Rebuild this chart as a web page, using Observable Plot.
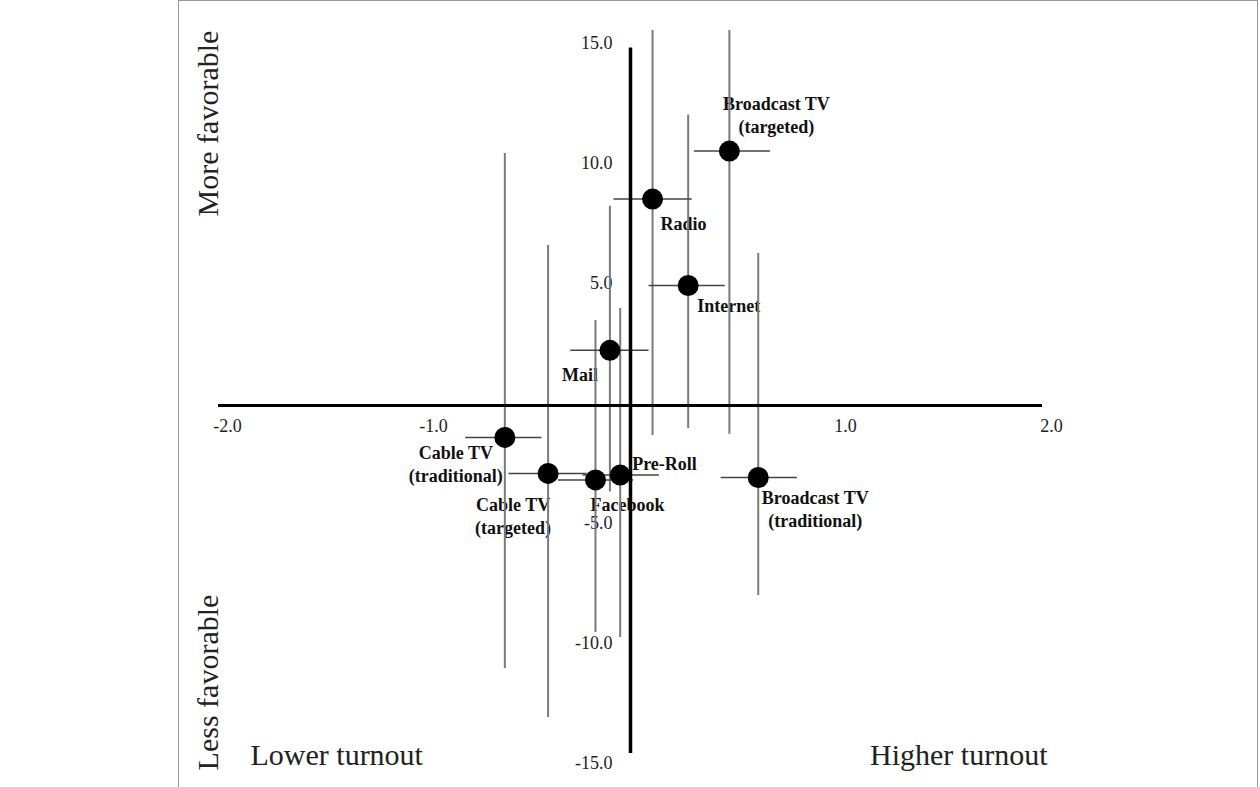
<!DOCTYPE html>
<html>
<head>
<meta charset="utf-8">
<script src="https://cdn.jsdelivr.net/npm/d3@7"></script>
<script src="https://cdn.jsdelivr.net/npm/@observablehq/plot@0.6"></script>
<style>
  body { margin: 0; background: #fff; }
  #wrap { position: relative; width: 1260px; height: 787px; overflow: hidden; }
  #frame { position: absolute; left: 178px; top: 0; width: 1080px; height: 800px;
           border-left: 1px solid #999; border-top: 1px solid #999; border-right: 1px solid #999; box-sizing: border-box; }
  #chart { position: absolute; left: 0; top: 0; }
</style>
</head>
<body>
<div id="wrap"><div id="frame"></div><div id="chart"></div></div>
<script>
// ---- data ----
const media = ["Broadcast TV (targeted)", "Radio", "Internet", "Mail", "Cable TV (traditional)", "Cable TV (targeted)", "Facebook", "Pre-Roll", "Broadcast TV (traditional)"];
const mediaLabels = ["Broadcast TV\n(targeted)", "Radio", "Internet", "Mail", "Cable TV\n(traditional)", "Cable TV\n(targeted)", "Facebook", "Pre-Roll", "Broadcast TV\n(traditional)"];
const turnout = [0.48, 0.107, 0.28, -0.10, -0.61, -0.40, -0.17, -0.05, 0.62];
const turnoutLow = [0.31, -0.08, 0.09, -0.29, -0.80, -0.59, -0.35, -0.23, 0.44];
const turnoutHigh = [0.68, 0.30, 0.46, 0.09, -0.43, -0.21, 0.015, 0.14, 0.81];
const favor = [10.6, 8.6, 5.0, 2.3, -1.33, -2.83, -3.1, -2.9, -3.0];
const favorLow = [-1.2, -1.25, -0.96, -3.6, -10.96, -13.0, -9.46, -9.67, -7.92];
const favorHigh = [22.4, 18.4, 12.1, 8.3, 10.5, 6.67, 3.54, 4.04, 6.33];
const xTicks = [-2, -1, 1, 2];
const yTicks = [15, 10, 5, -5, -10, -15];
const xAxisExtent = [-2, 2];
const yAxisExtent = [-14.5, 14.9];

const rows = media.map((m, i) => ({
  name: m, label: mediaLabels[i],
  x: turnout[i], xLow: turnoutLow[i], xHigh: turnoutHigh[i],
  y: favor[i], yLow: favorLow[i], yHigh: favorHigh[i]
}));

const serif = "'Liberation Serif', 'Times New Roman', serif";

function label(name, anchor, dx, dy) {
  return Plot.text(rows.filter(d => d.name === name), {
    x: "x", y: "y", text: "label", textAnchor: anchor, dx, dy,
    fontSize: 18, fontWeight: "bold", lineHeight: 1.25, fill: "#111"
  });
}

const title = { fontSize: 30, fill: "#222", lineAnchor: "middle" };

const chart = Plot.plot({
  width: 1260, height: 787,
  marginTop: 30, marginLeft: 0, marginRight: 0, marginBottom: 0,
  x: { domain: [-2, 2], range: [218, 1042], axis: null },
  y: { domain: [-15, 15], range: [765, 45], axis: null },
  style: { fontFamily: serif, background: "transparent", overflow: "visible" },
  marks: [
    // point labels
    label("Broadcast TV (targeted)", "middle", 47, -37),
    label("Radio", "start", 8, 24),
    label("Internet", "start", 9, 19),
    label("Mail", "end", -12, 23),
    label("Cable TV (traditional)", "middle", -49, 26),
    label("Cable TV (targeted)", "middle", -35, 42),
    label("Facebook", "start", -5, 24),
    label("Pre-Roll", "start", 12, -12),
    label("Broadcast TV (traditional)", "middle", 57, 31),
    // tick labels
    Plot.text(yTicks, { x: d => 0, y: d => d, text: d => d.toFixed(1), textAnchor: "end", dx: -18, dy: -2, fontSize: 18, fill: "#222" }),
    Plot.text(xTicks, { x: d => d, y: d => 0, text: d => d.toFixed(1), dx: 9, dy: 21, fontSize: 18, fill: "#222" }),
    // error bars
    Plot.ruleX(rows, { x: "x", y1: "yLow", y2: "yHigh", stroke: "#7a7a7a", strokeWidth: 2, clip: true }),
    Plot.ruleY(rows, { y: "y", x1: "xLow", x2: "xHigh", stroke: "#444", strokeWidth: 1.5 }),
    // axes
    Plot.ruleY([0], { x1: d => xAxisExtent[0], x2: d => xAxisExtent[1], stroke: "#000", strokeWidth: 3 }),
    Plot.ruleX([0], { y1: d => yAxisExtent[0], y2: d => yAxisExtent[1], stroke: "#000", strokeWidth: 3.5 }),
    // points
    Plot.dot(rows, { x: "x", y: "y", r: 10.5, fill: "#000", stroke: "none" }),
    // quadrant titles
    Plot.text(["More favorable"], { ...title, frameAnchor: "top-left", textAnchor: "middle", dx: 208, dy: 93, rotate: -90 }),
    Plot.text(["Less favorable"], { ...title, frameAnchor: "bottom-left", textAnchor: "middle", dx: 208, dy: -105, rotate: -90 }),
    Plot.text(["Lower turnout"], { ...title, frameAnchor: "bottom-left", textAnchor: "start", dx: 250, dy: -32 }),
    Plot.text(["Higher turnout"], { ...title, frameAnchor: "bottom-right", textAnchor: "end", dx: -213, dy: -32 })
  ]
});
document.getElementById("chart").appendChild(chart);
</script>
</body>
</html>
